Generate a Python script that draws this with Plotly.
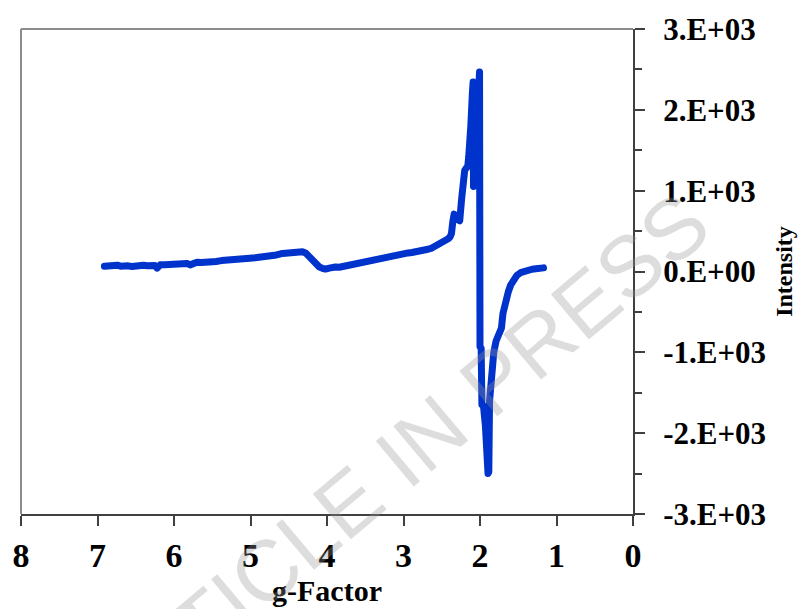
import plotly.graph_objects as go

# ---- data ----
g_factor = [
    6.91, 6.87, 6.83, 6.78, 6.74, 6.70, 6.65, 6.60, 6.55, 6.50, 6.45, 6.40, 6.35, 6.30,
    6.25, 6.22, 6.18, 6.12, 6.06, 6.00, 5.94, 5.87, 5.83, 5.79, 5.74, 5.70, 5.64, 5.58,
    5.52, 5.45, 5.38, 5.32, 5.25, 5.18, 5.10, 5.01, 4.94, 4.87, 4.80, 4.73, 4.66, 4.58,
    4.52, 4.46, 4.40, 4.36, 4.32, 4.28, 4.24, 4.20, 4.15, 4.10, 4.06, 4.02, 3.97, 3.93,
    3.89, 3.84, 3.80, 3.75, 3.71, 3.66, 3.62, 3.58, 3.54, 3.49, 3.45, 3.41, 3.37, 3.32,
    3.28, 3.24, 3.20, 3.15, 3.10, 3.06, 3.02, 2.98, 2.94, 2.89, 2.85, 2.80, 2.76, 2.72,
    2.68, 2.63, 2.59, 2.55, 2.52, 2.50, 2.46, 2.415, 2.39, 2.373, 2.355, 2.338, 2.32,
    2.30, 2.265, 2.24, 2.22, 2.20, 2.18, 2.16, 2.148, 2.135, 2.12, 2.10, 2.09, 2.085,
    2.006, 2.00, 1.985, 1.975, 1.955, 1.93, 1.91, 1.895, 1.885, 1.875, 1.855,
    1.82, 1.79, 1.75, 1.72, 1.70, 1.68, 1.66, 1.63, 1.60, 1.56, 1.52, 1.47, 1.42,
    1.37, 1.32, 1.27, 1.22, 1.17,
]
intensity = [
    65, 72, 68, 80, 78, 66, 75, 70, 62, 74, 70, 78, 72, 66,
    75, 42, 82, 85, 88, 95, 100, 115, 100, 82, 108, 115, 112, 110,
    118, 124, 135, 143, 140, 150, 155, 164, 170, 175, 184, 195, 205, 224,
    232, 240, 250, 257, 245, 230, 185, 140, 85, 55, 40, 30, 42, 38,
    55, 52, 60, 75, 90, 95, 110, 108, 127, 135, 140, 150, 148, 165,
    176, 180, 190, 195, 205, 210, 216, 222, 230, 235, 240, 248, 252, 265,
    275, 290, 309, 330, 350, 360, 385, 405, 430, 470, 620, 710, 660,
    640, 628, 900, 1218, 1250, 1279, 1300, 1415, 1537, 1800, 2200, 2345, 1052,
    2467, -930, -950, -1650, -1660, -1900, -2300, -2500, -2480, -1600, -1250,
    -1000, -860, -760, -700, -520, -420, -350, -250, -170, -100, -50, -15, 5,
    20, 28, 33, 40, 45,
]

x_ticks = [0, 1, 2, 3, 4, 5, 6, 7, 8]
y_ticks = [-3000, -2000, -1000, 0, 1000, 2000, 3000]
y_tick_labels = ["-3.E+03", "-2.E+03", "-1.E+03", "0.E+00", "1.E+03", "2.E+03", "3.E+03"]

serif_bold = dict(family="Liberation Serif, Times New Roman, serif", color="black", weight="bold")

fig = go.Figure()
fig.add_trace(go.Scatter(
    x=g_factor, y=intensity, mode="lines",
    line=dict(color="#0033cc", width=7),
    showlegend=False,
))

fig.update_layout(
    width=808, height=609, autosize=False,
    margin=dict(l=16, r=175, t=26, b=88),
    paper_bgcolor="white", plot_bgcolor="white",
    xaxis=dict(
        range=[8, 0], tickvals=x_ticks, ticktext=[str(v) for v in x_ticks],
        ticks="outside", ticklen=10, tickwidth=2, tickcolor="#404040",
        showline=True, linecolor="#404040", linewidth=2,
        showgrid=False, zeroline=False,
        tickfont=dict(size=34, **serif_bold),
        ticklabelstandoff=0, ticklabeloverflow="allow",
        title=dict(text="g-Factor", font=dict(size=30, **serif_bold), standoff=2),
    ),
    yaxis=dict(
        side="right", range=[-3000, 3000],
        tickvals=y_ticks, ticktext=y_tick_labels,
        ticks="outside", ticklen=10, tickwidth=2, tickcolor="#404040",
        minor=dict(dtick=500, ticks="outside", ticklen=7, tickwidth=2, tickcolor="#404040"),
        showline=True, linecolor="#404040", linewidth=2,
        showgrid=False, zeroline=False,
        tickfont=dict(size=31, **serif_bold),
        ticklabelstandoff=12, ticklabeloverflow="allow",
        title=dict(text="Intensity", font=dict(size=24, **serif_bold), standoff=10),
    ),
    shapes=[
        dict(type="line", xref="paper", yref="paper", x0=0, x1=1, y0=1, y1=1,
             line=dict(color="#8c8c8c", width=2)),
        dict(type="line", xref="paper", yref="paper", x0=0, x1=0, y0=0, y1=1,
             line=dict(color="#8c8c8c", width=2)),
    ],
    annotations=[
        dict(text="ARTICLE IN PRESS", xref="paper", yref="paper", x=0.611, y=0.105,
             xanchor="center", yanchor="middle", textangle=-40, showarrow=False,
             font=dict(family="Liberation Sans, Arial, sans-serif", size=86,
                       color="rgba(150,150,150,0.32)")),
    ],
)

fig.write_html(
    "out.html",
    config={"displayModeBar": False},
    post_script=(
        "document.body.style.margin='0';document.body.style.overflow='hidden';"
        "document.querySelectorAll('.scatterlayer path.js-line').forEach(function(p){"
        "p.style.strokeLinejoin='round';p.style.strokeLinecap='round';});"
    ),
)
